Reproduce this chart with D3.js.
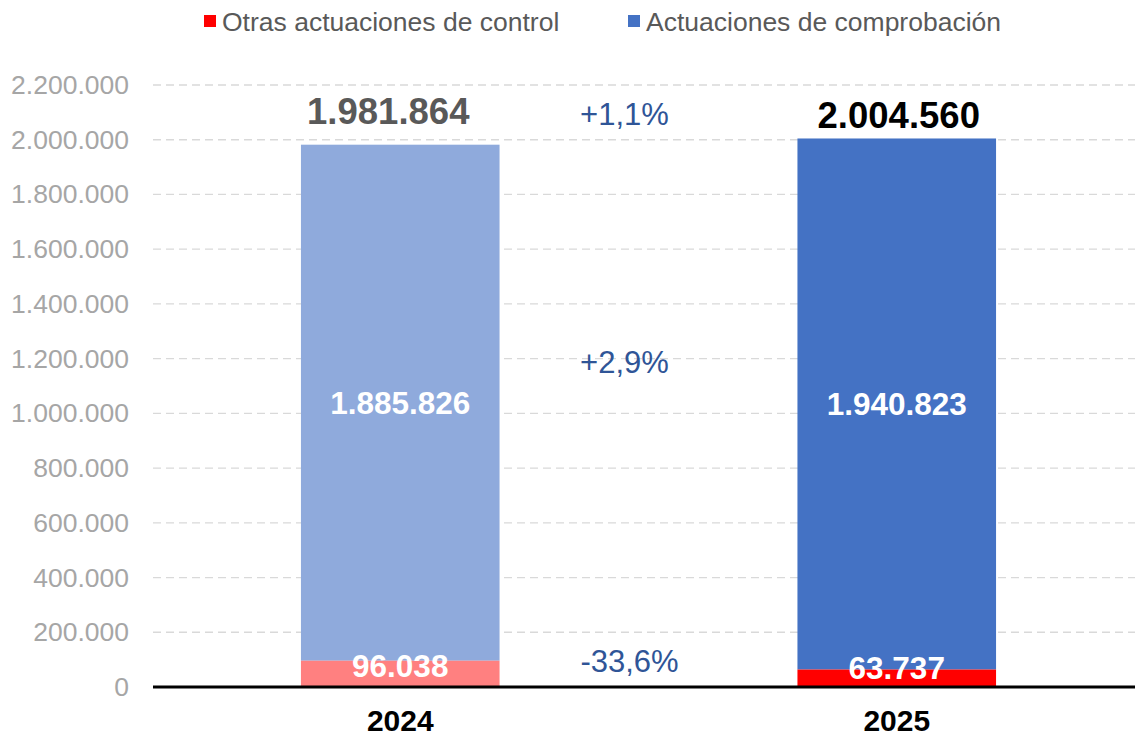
<!DOCTYPE html>
<html>
<head>
<meta charset="utf-8">
<script src="https://cdn.jsdelivr.net/npm/d3@7"></script>
<style>
  body { margin: 0; background: white; }
  text { font-family: "Liberation Sans", Arial, sans-serif; }
</style>
</head>
<body>
<div id="container"></div>
<script>
const years = ['2024', '2025']
const comprobacion = [1885826, 1940823]
const otras = [96038, 63737]
const totals = [1981864, 2004560]
const changes = ['+1,1%', '+2,9%', '-33,6%']
const yTicks = [0, 200000, 400000, 600000, 800000, 1000000, 1200000, 1400000, 1600000, 1800000, 2000000, 2200000]

const w = 1135
const h = 738

const fmt = v => d3.format(',')(v).replace(/,/g, '.')

const svg = d3.select('#container')
  .append('svg')
    .attr('width', w)
    .attr('height', h)
    .style('background', 'white')

const scaleX = d3.scaleBand()
  .domain(years)
  .range([152, 1145])
  .paddingInner(0.6)
  .paddingOuter(0.3)

const scaleY = d3.scaleLinear()
  .domain([0, 2200000])
  .range([687, 85])

// grid
svg.append('g')
  .selectAll('line')
  .data(yTicks.slice(1))
  .enter()
  .append('line')
    .attr('x1', 153)
    .attr('x2', 1135)
    .attr('y1', d => scaleY(d))
    .attr('y2', d => scaleY(d))
    .attr('stroke', '#D9D9D9')
    .attr('stroke-width', 1.3)
    .attr('stroke-dasharray', '8,5')

const axisY = d3.axisLeft(scaleY)
  .tickValues(yTicks)
  .tickSize(0)
  .tickPadding(0)
  .tickFormat(fmt)

svg.append('g')
  .attr('transform', 'translate(129, 0)')
  .call(axisY)
  .call(g => g.select('.domain').remove())
  .selectAll('text')
    .attr('fill', '#A6A6A6')
    .style('font-size', '26.5px')
    .style('font-family', '"Liberation Sans", Arial, sans-serif')

const colsLight = ['#8FAADC', '#4472C4']
const colsRed = ['#FF8080', '#FF0000']

// comprobacion bars (on top)
svg.selectAll('rect.comp')
  .data(years)
  .enter()
  .append('rect')
    .attr('class', 'comp')
    .attr('x', d => scaleX(d))
    .attr('width', scaleX.bandwidth())
    .attr('y', (d, i) => scaleY(otras[i] + comprobacion[i]))
    .attr('height', (d, i) => scaleY(otras[i]) - scaleY(otras[i] + comprobacion[i]))
    .attr('fill', (d, i) => colsLight[i])

svg.selectAll('rect.otras')
  .data(years)
  .enter()
  .append('rect')
    .attr('class', 'otras')
    .attr('x', d => scaleX(d))
    .attr('width', scaleX.bandwidth())
    .attr('y', (d, i) => scaleY(otras[i]))
    .attr('height', (d, i) => scaleY(0) - scaleY(otras[i]))
    .attr('fill', (d, i) => colsRed[i])

// baseline
svg.append('line')
  .attr('x1', 153)
  .attr('x2', 1135)
  .attr('y1', scaleY(0))
  .attr('y2', scaleY(0))
  .attr('stroke', 'black')
  .attr('stroke-width', 3)

const cx = d => scaleX(d) + scaleX.bandwidth() / 2

// inner labels
svg.selectAll('text.comp')
  .data(years)
  .enter()
  .append('text')
    .attr('x', d => cx(d))
    .attr('y', (d, i) => scaleY(otras[i] + comprobacion[i] / 2) + 11)
    .attr('text-anchor', 'middle')
    .attr('fill', 'white')
    .style('font-size', '31.5px')
    .style('font-weight', 'bold')
    .text((d, i) => fmt(comprobacion[i]))

svg.selectAll('text.otras')
  .data(years)
  .enter()
  .append('text')
    .attr('x', d => cx(d))
    .attr('y', (d, i) => scaleY(0) - (i === 0 ? 10 : 8))
    .attr('text-anchor', 'middle')
    .attr('fill', 'white')
    .style('font-size', '31.5px')
    .style('font-weight', 'bold')
    .text((d, i) => fmt(otras[i]))

// totals
const totalOffset = [21, 10]
svg.selectAll('text.total')
  .data(years)
  .enter()
  .append('text')
    .attr('x', (d, i) => cx(d) + (i === 0 ? -12 : 2))
    .attr('y', (d, i) => scaleY(totals[i]) - totalOffset[i])
    .attr('text-anchor', 'middle')
    .attr('fill', (d, i) => i === 0 ? '#595959' : '#000000')
    .style('font-size', '36.5px')
    .style('font-weight', 'bold')
    .text((d, i) => fmt(totals[i]))

// change labels
const midX = (cx(years[0]) + cx(years[1])) / 2 - 24
const changeY = [
  scaleY(2000000) - 15,
  scaleY(otras[1] + comprobacion[1] / 2) - 31,
  scaleY(0) - 15
]
svg.selectAll('text.change')
  .data(changes)
  .enter()
  .append('text')
    .attr('x', (d, i) => midX + (i === 2 ? 5 : 0))
    .attr('y', (d, i) => changeY[i])
    .attr('text-anchor', 'middle')
    .attr('fill', '#2F5597')
    .style('font-size', '31px')
    .text(d => d)

// x axis labels
const axisX = d3.axisBottom(scaleX).tickSize(0).tickPadding(0)
svg.append('g')
  .attr('transform', 'translate(0, 731)')
  .call(axisX)
  .call(g => g.select('.domain').remove())
  .selectAll('text')
    .attr('fill', 'black')
    .attr('dy', '0')
    .style('font-size', '30px')
    .style('font-weight', 'bold')
    .style('font-family', '"Liberation Sans", Arial, sans-serif')

// legend
const legendItems = [
  { label: 'Otras actuaciones de control', color: '#FF0000', x: 204 },
  { label: 'Actuaciones de comprobación', color: '#4472C4', x: 628 }
]
const legend = svg.selectAll('g.legend')
  .data(legendItems)
  .enter()
  .append('g')
    .attr('class', 'legend')
    .attr('transform', d => `translate(${d.x}, 0)`)
legend.append('rect')
  .attr('y', 15)
  .attr('width', 12)
  .attr('height', 12)
  .attr('fill', d => d.color)
legend.append('text')
  .attr('x', 18)
  .attr('y', 31)
  .attr('fill', '#595959')
  .style('font-size', '26.5px')
  .text(d => d.label)
</script>
</body>
</html>
